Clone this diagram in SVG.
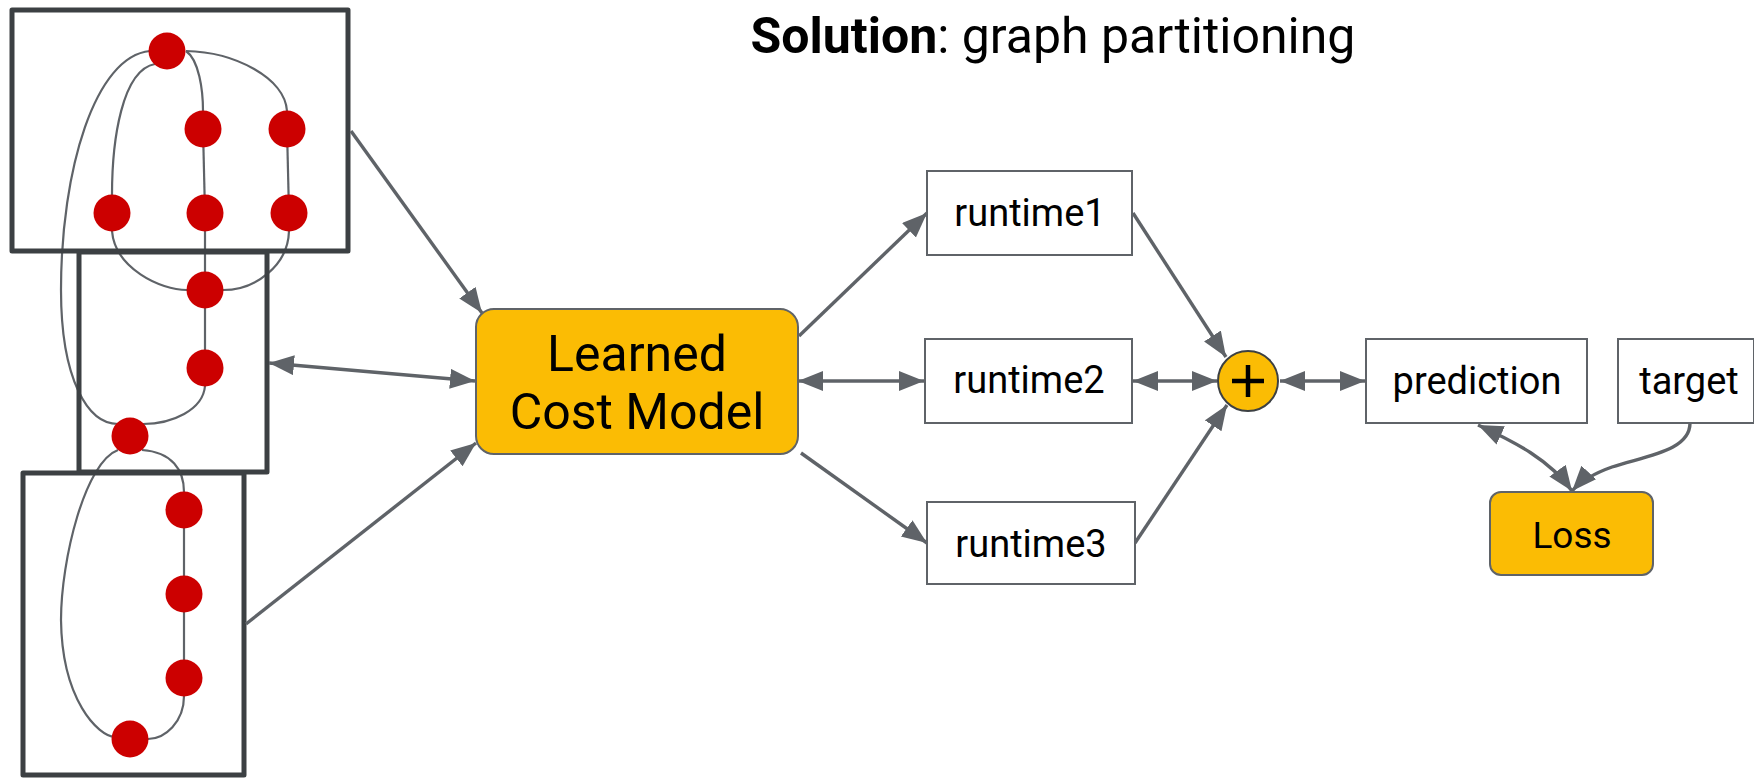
<svg xmlns="http://www.w3.org/2000/svg" width="1754" height="778" viewBox="0 0 1754 778">
  <style>
    .part { fill: none; stroke: #3c4043; stroke-width: 5; stroke-linejoin: round; }
    .edge { fill: none; stroke: #5f6368; stroke-width: 2.2; }
    .vtx { fill: #cc0000; }
    .conn { fill: none; stroke: #5f6368; stroke-width: 3.4; }
    .box { fill: #ffffff; stroke: #5f6368; stroke-width: 2; }
    .hl { fill: #fbbc04; stroke: #5f6368; stroke-width: 2; }
    .lbl { font-family: Roboto, "Liberation Sans", sans-serif; fill: #000000; text-anchor: middle; }
  </style>
  <defs>
    <marker id="ah" markerUnits="userSpaceOnUse" markerWidth="28" markerHeight="22" refX="25" refY="10" orient="auto-start-reverse" viewBox="0 0 28 22">
      <path d="M0,0 L25,10 L0,20 z" fill="#5f6368"/>
    </marker>
  </defs>

  <!-- title -->
  <text id="title" class="lbl" x="1053" y="53" font-size="50"><tspan font-weight="bold">Solution</tspan>: graph partitioning</text>

  <!-- computation graph split into three partitions -->
  <g id="graph-edges">
    <path class="edge" d="M150,51 C95,56 61,170 61,290 C61,380 88,424 118,424"/>
    <path class="edge" d="M155,64 C122,70 112,140 112,195"/>
    <path class="edge" d="M186,51 C199,60 203,90 203,111"/>
    <path class="edge" d="M186,51 C235,52 285,78 287,111"/>
    <path class="edge" d="M203,129 L205,213"/>
    <path class="edge" d="M287,129 L289,213"/>
    <path class="edge" d="M205,213 L205,368"/>
    <path class="edge" d="M112,231 C115,268 160,290 187,290"/>
    <path class="edge" d="M289,231 C288,266 255,290 223,290"/>
    <path class="edge" d="M205,386 C203,410 172,424 143,424"/>
    <path class="edge" d="M142,450 C172,452 184,470 184,492"/>
    <path class="edge" d="M118,450 C85,462 61,560 61,620 C62,700 98,736 115,737"/>
    <path class="edge" d="M184,510 L184,678"/>
    <path class="edge" d="M184,696 C184,722 165,739 148,739"/>
  </g>
  <g id="graph-nodes">
    <circle class="vtx" cx="167" cy="51" r="18.5"/>
    <circle class="vtx" cx="203" cy="129" r="18.5"/>
    <circle class="vtx" cx="287" cy="129" r="18.5"/>
    <circle class="vtx" cx="112" cy="213" r="18.5"/>
    <circle class="vtx" cx="205" cy="213" r="18.5"/>
    <circle class="vtx" cx="289" cy="213" r="18.5"/>
    <circle class="vtx" cx="205" cy="290" r="18.5"/>
    <circle class="vtx" cx="205" cy="368" r="18.5"/>
    <circle class="vtx" cx="130" cy="436" r="18.5"/>
    <circle class="vtx" cx="184" cy="510" r="18.5"/>
    <circle class="vtx" cx="184" cy="594" r="18.5"/>
    <circle class="vtx" cx="184" cy="678" r="18.5"/>
    <circle class="vtx" cx="130" cy="739" r="18.5"/>
  </g>
  <g id="partition1"><rect class="part" x="12" y="10" width="336" height="241"/></g>
  <g id="partition2"><rect class="part" x="79" y="252" width="188" height="220"/></g>
  <g id="partition3"><rect class="part" x="23" y="473" width="221" height="302"/></g>

  <!-- connectors -->
  <g id="connectors">
    <line class="conn" x1="351" y1="131" x2="482" y2="313" marker-end="url(#ah)"/>
    <line class="conn" x1="269" y1="363" x2="475" y2="381" marker-start="url(#ah)" marker-end="url(#ah)"/>
    <line class="conn" x1="246" y1="624" x2="476" y2="443" marker-end="url(#ah)"/>
    <line class="conn" x1="799" y1="336" x2="927" y2="213" marker-end="url(#ah)"/>
    <line class="conn" x1="798" y1="381" x2="924" y2="381" marker-start="url(#ah)" marker-end="url(#ah)"/>
    <line class="conn" x1="801" y1="453" x2="927" y2="543" marker-end="url(#ah)"/>
    <line class="conn" x1="1133" y1="213" x2="1226" y2="357" marker-end="url(#ah)"/>
    <line class="conn" x1="1135" y1="543" x2="1227" y2="405" marker-end="url(#ah)"/>
    <line class="conn" x1="1133" y1="381" x2="1217" y2="381" marker-start="url(#ah)" marker-end="url(#ah)"/>
    <line class="conn" x1="1280" y1="381" x2="1365" y2="381" marker-start="url(#ah)" marker-end="url(#ah)"/>
    <path class="conn" d="M1478,425 C1515,442 1550,460 1572,491" marker-start="url(#ah)" marker-end="url(#ah)"/>
    <path class="conn" d="M1690,423 C1690,450 1650,455 1612,467 C1595,473 1582,480 1572,491" marker-end="url(#ah)"/>
  </g>

  <!-- model and outputs -->
  <g id="cost-model">
    <rect class="hl" x="476" y="309" width="322" height="145" rx="18"/>
    <text class="lbl" x="637" y="371" font-size="50">Learned</text>
    <text class="lbl" x="637" y="429" font-size="50">Cost Model</text>
  </g>
  <g id="runtime1">
    <rect class="box" x="927" y="171" width="205" height="84"/>
    <text class="lbl" x="1030" y="226" font-size="38">runtime1</text>
  </g>
  <g id="runtime2">
    <rect class="box" x="925" y="339" width="207" height="84"/>
    <text class="lbl" x="1029" y="393" font-size="38">runtime2</text>
  </g>
  <g id="runtime3">
    <rect class="box" x="927" y="502" width="208" height="82"/>
    <text class="lbl" x="1031" y="557" font-size="38">runtime3</text>
  </g>
  <g id="sum">
    <circle cx="1248" cy="381" r="30" fill="#fbbc04" stroke="#3c4043" stroke-width="2"/>
    <path d="M1232,381 H1264 M1248,365 V397" stroke="#000000" stroke-width="4.5" fill="none"/>
  </g>
  <g id="prediction">
    <rect class="box" x="1366" y="339" width="221" height="84"/>
    <text class="lbl" x="1477" y="394" font-size="38">prediction</text>
  </g>
  <g id="target">
    <rect class="box" x="1618" y="339" width="136" height="84"/>
    <text class="lbl" x="1689" y="394" font-size="38">target</text>
  </g>
  <g id="loss">
    <rect class="hl" x="1490" y="492" width="163" height="83" rx="11"/>
    <text class="lbl" x="1572" y="548" font-size="37">Loss</text>
  </g>
</svg>
